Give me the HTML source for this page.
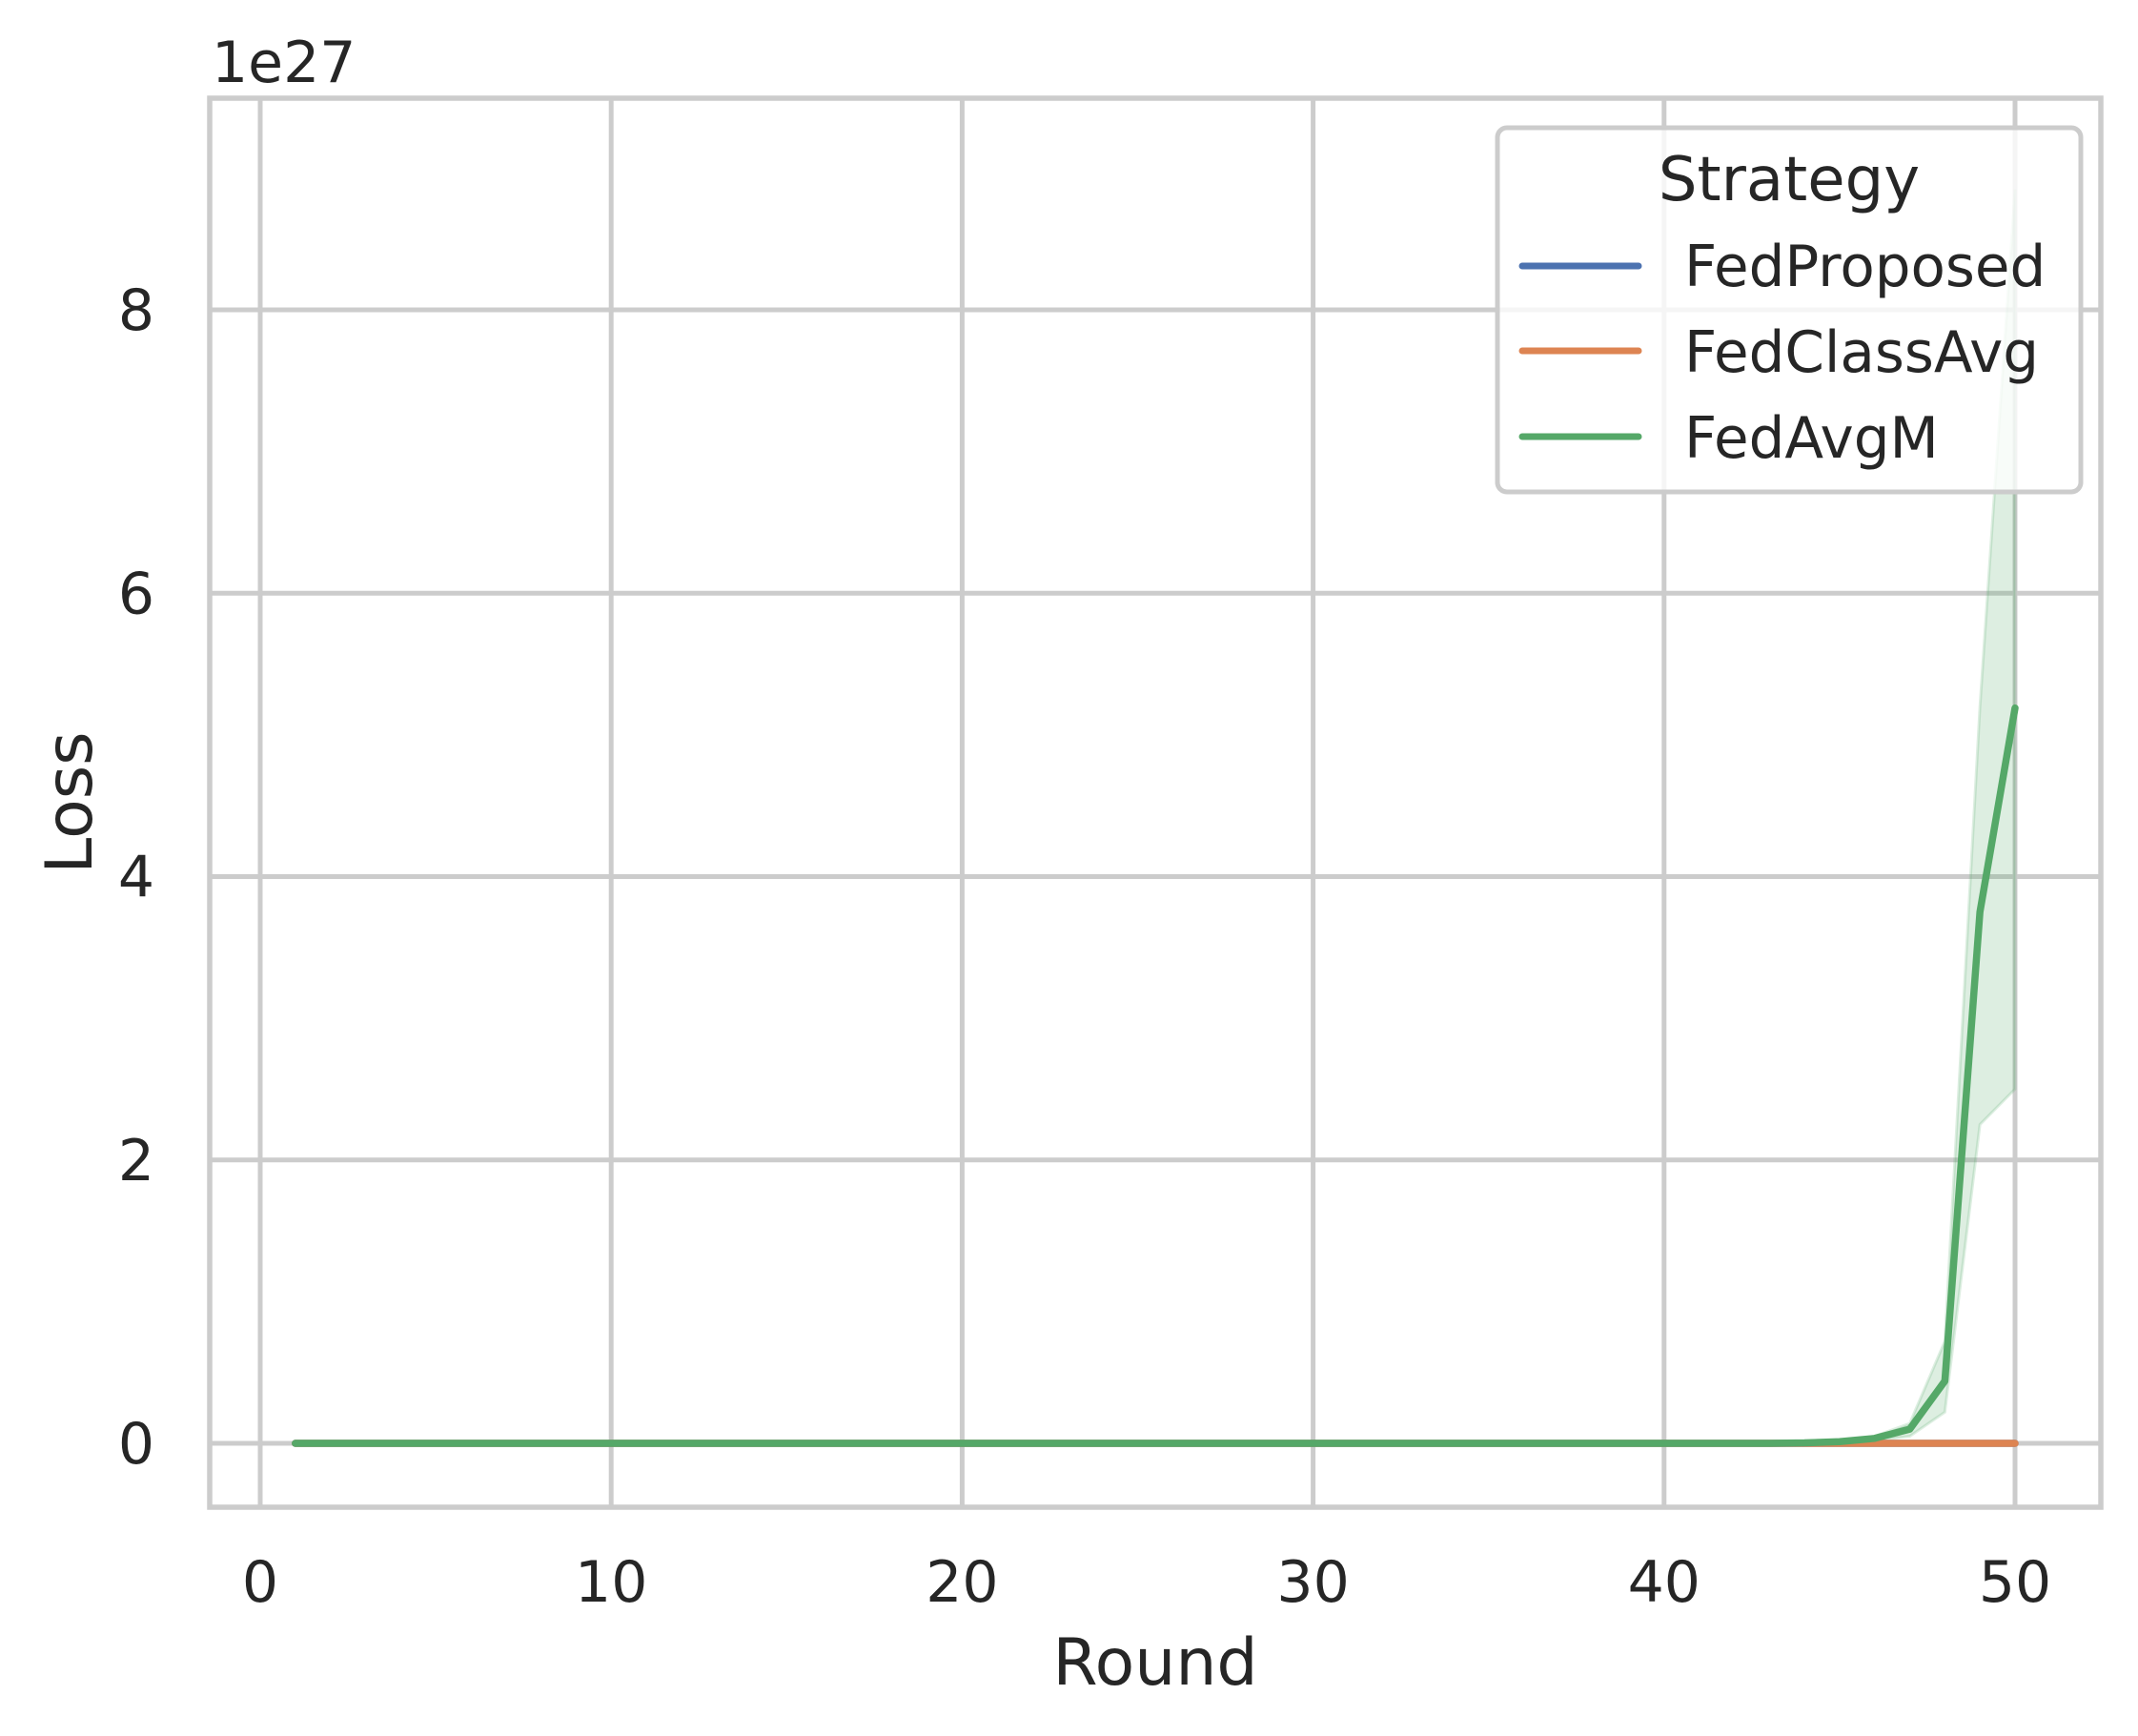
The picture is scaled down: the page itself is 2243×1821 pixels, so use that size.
<!DOCTYPE html>
<html><head><meta charset="utf-8"><style>
html,body{margin:0;padding:0;background:#fff;}
svg{display:block;font-family:"DejaVu Sans","Liberation Sans",sans-serif;}
</style></head><body>
<svg id="chart" width="2243" height="1821" viewBox="0 0 2243 1821" xmlns="http://www.w3.org/2000/svg">
<rect x="0" y="0" width="2243" height="1821" fill="#fff"/>
<g id="grid"></g>
<g id="marks"></g>
<rect x="220" y="103" width="1984" height="1478" fill="none" stroke="#cccccc" stroke-width="5.5"/>
<g id="ticks" fill="#262626" font-size="60"></g>
<text x="222" y="86" font-size="60" fill="#262626">1e27</text>
<text x="1212" y="1767" font-size="68" fill="#262626" text-anchor="middle">Round</text>
<text transform="translate(96,842) rotate(-90)" font-size="68" fill="#262626" text-anchor="middle">Loss</text>
<g>
<rect x="1571" y="134" width="612" height="382" rx="10" fill="#fff" fill-opacity="0.8" stroke="#cccccc" stroke-width="5"/>
<text x="1877" y="210" font-size="64" fill="#262626" text-anchor="middle">Strategy</text>
<g><line x1="1597" y1="279" x2="1719" y2="279" stroke="#4c72b0" stroke-width="7" stroke-linecap="round"/><text x="1767" y="300" font-size="59.5" fill="#262626">FedProposed</text></g>
<g><line x1="1597" y1="368" x2="1719" y2="368" stroke="#dd8452" stroke-width="7" stroke-linecap="round"/><text x="1767" y="390" font-size="59.5" fill="#262626">FedClassAvg</text></g>
<g><line x1="1597" y1="458" x2="1719" y2="458" stroke="#55a868" stroke-width="7" stroke-linecap="round"/><text x="1767" y="480" font-size="59.5" fill="#262626">FedAvgM</text></g>
</g>
</svg>
<script>
const xTicks = [0, 10, 20, 30, 40, 50];
const yTicks = [0, 2, 4, 6, 8];
const rounds = [43, 44, 45, 46, 47, 48, 49, 50];
const fedAvgMTail = [0.0, 0.003, 0.012, 0.035, 0.10, 0.44, 3.75, 5.19];
const fedAvgMLower = [0.0, 0.002, 0.008, 0.02, 0.05, 0.22, 2.25, 2.5];
const fedAvgMUpper = [0.0, 0.004, 0.02, 0.05, 0.14, 0.72, 5.2, 8.85];
const fedClassAvgValue = 0;
const fedProposedValue = 0;
const firstRound = 1, lastRound = 50;

const NS = 'http://www.w3.org/2000/svg';
const X0 = 273, XPER = (2114 - 273) / 50;
const Y0 = 1514, YPER = (1514 - 325) / 8;
const sx = v => X0 + v * XPER;
const sy = v => Y0 - v * YPER;
function mk(tag, attrs, parent) {
  const e = document.createElementNS(NS, tag);
  for (const k in attrs) e.setAttribute(k, attrs[k]);
  parent.appendChild(e);
  return e;
}
const grid = document.getElementById('grid');
const ticks = document.getElementById('ticks');
const marks = document.getElementById('marks');
xTicks.forEach(t => {
  const l = mk('line', {x1: sx(t), x2: sx(t), y1: 103, y2: 1581, stroke: '#cccccc', 'stroke-width': 5}, grid);
  
  
  const tx = mk('text', {x: sx(t), y: 1680, 'text-anchor': 'middle'}, ticks);
  
  
  tx.textContent = t;
});
yTicks.forEach(t => {
  const l = mk('line', {x1: 220, x2: 2204, y1: sy(t), y2: sy(t), stroke: '#cccccc', 'stroke-width': 5}, grid);
  
  
  const tx = mk('text', {x: 162, y: sy(t) + 21, 'text-anchor': 'end'}, ticks);
  
  
  tx.textContent = t;
});
let up = rounds.map((r, i) => sx(r) + ',' + sy(fedAvgMUpper[i]));
let lo = rounds.map((r, i) => sx(r) + ',' + sy(fedAvgMLower[i])).reverse();
const clip = mk('clipPath', {id: 'pc'}, marks);
mk('rect', {x: 220, y: 103, width: 1984, height: 1478}, clip);
const band = mk('polygon', {points: up.concat(lo).join(' '), fill: '#55a868', 'fill-opacity': 0.2, stroke: '#55a868', 'stroke-opacity': 0.2, 'stroke-width': 3, 'clip-path': 'url(#pc)'}, marks);


function flatLine(val, color, name) {
  const l = mk('line', {x1: sx(firstRound), x2: sx(lastRound), y1: sy(val), y2: sy(val), stroke: color, 'stroke-width': 7.5, 'stroke-linecap': 'round'}, marks);
  
  
}
flatLine(fedProposedValue, '#4c72b0', 'fedproposed-line');
flatLine(fedClassAvgValue, '#dd8452', 'fedclassavg-line');
const pts = [[firstRound, 0]].concat(rounds.map((r, i) => [r, fedAvgMTail[i]]));
const gl = mk('polyline', {points: pts.map(p => sx(p[0]) + ',' + sy(p[1])).join(' '), fill: 'none', stroke: '#55a868', 'stroke-width': 7.5, 'stroke-linecap': 'round', 'stroke-linejoin': 'round'}, marks);


</script>
</body></html>
